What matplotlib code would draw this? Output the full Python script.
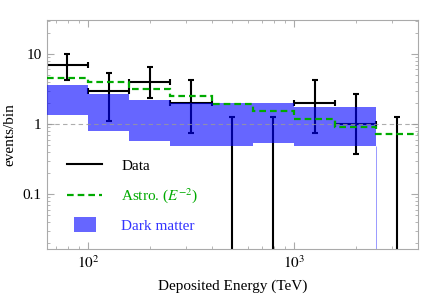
import matplotlib
matplotlib.use("Agg")
import matplotlib.pyplot as plt
import numpy as np
from matplotlib.lines import Line2D
from matplotlib.patches import Patch, Rectangle
from matplotlib.legend_handler import HandlerPatch
from matplotlib.ticker import FixedLocator, FixedFormatter, LogLocator, NullFormatter

plt.rcParams['font.family'] = ['Liberation Serif', 'DejaVu Serif']
plt.rcParams['mathtext.fontset'] = 'stix'

# Bin edges (TeV)
edges = [63.1, 100, 158.5, 251.2, 398.1, 631.0, 1000, 1585, 2512, 3981]
# Observed data
counts = [7, 3, 4, 2, 0, 0, 2, 1, 0]
err_low = [4.25, 1.11, 2.33, 0.74, 1e-4, 1e-4, 0.74, 0.37, 1e-4]
err_high = [10.1, 5.3, 6.6, 4.2, 1.27, 1.27, 4.2, 2.7, 1.27]
# Astrophysical E^-2 expectation
astro = [4.5, 4.0, 3.2, 2.54, 1.93, 1.53, 1.19, 0.92, 0.72]
# Dark matter band (first 8 bins)
dm_low = [1.35, 0.79, 0.58, 0.49, 0.49, 0.53, 0.485, 0.485]
dm_high = [3.6, 2.7, 2.2, 2.0, 2.0, 2.0, 1.77, 1.77]

x_ticks = [100, 1000]
x_labels = [r'$10^2$', r'$10^3$']
y_ticks = [0.1, 1, 10]
y_labels = ['0.1', '1', '10']

fig = plt.figure(figsize=(4.21, 2.96), dpi=100)
ax = fig.add_axes([0.1116, 0.1588, 0.8813, 0.7752])
ax.set_xscale('log')
ax.set_yscale('log')
xlim = (63.2, 4000)
ylim = (0.0164, 31)
ax.set_xlim(*xlim)
ax.set_ylim(*ylim)

edges_a = np.array(edges)
centers = np.sqrt(edges_a[:-1] * edges_a[1:])
cnt = np.array(counts, dtype=float)
lo = np.array(err_low)
hi = np.array(err_high)

# data error bars (drawn under the band)
for i in range(len(counts)):
    c = centers[i]
    ax.plot([c, c], [lo[i], hi[i]], color='black', lw=1.5, zorder=2, solid_capstyle='butt')
    ax.plot([c], [hi[i]], marker='_', ms=4.5, mew=1.5, color='black', zorder=2)
    if counts[i] > 0:
        ax.plot([c], [lo[i]], marker='_', ms=4.5, mew=1.5, color='black', zorder=2)
        ax.plot([edges[i], edges[i + 1]], [cnt[i], cnt[i]], color='black', lw=1.5, zorder=2,
                solid_capstyle='butt')
        ax.plot([edges[i], edges[i + 1]], [cnt[i], cnt[i]], ls='none', marker='|', ms=4.5,
                mew=1.5, color='black', zorder=2)

# dark matter band
ax.stairs(dm_high, edges[:len(dm_high) + 1], baseline=dm_low, fill=True,
          color='#0000ff', alpha=0.6, lw=0, zorder=3)
ax.vlines(edges[len(dm_high)], ylim[0], dm_low[-1], color='#9999ff', lw=0.7, zorder=3)

# grid line at 1
ax.axhline(1, color='#999999', lw=0.8, ls=(0, (4, 3)), alpha=0.8, zorder=3.5)

# astro
ax.stairs(astro, edges, color='#00aa00', lw=1.6, ls=(0, (3, 1.8)), zorder=4, baseline=None)

# ticks
ax.xaxis.set_major_locator(FixedLocator(x_ticks))
ax.xaxis.set_major_formatter(FixedFormatter(x_labels))
ax.xaxis.set_minor_locator(LogLocator(base=10, subs=np.arange(2, 10), numticks=20))
ax.xaxis.set_minor_formatter(NullFormatter())
ax.yaxis.set_major_locator(FixedLocator(y_ticks))
ax.yaxis.set_major_formatter(FixedFormatter(y_labels))
ax.yaxis.set_minor_locator(LogLocator(base=10, subs=np.arange(2, 10), numticks=20))
ax.yaxis.set_minor_formatter(NullFormatter())
ax.tick_params(which='both', direction='in', top=True, right=True, color='#aaaaaa',
               labelsize=11, labelcolor='black')
ax.tick_params(which='major', length=5, width=0.8, pad=4)
ax.tick_params(which='minor', length=2.5, width=0.6)
for s in ax.spines.values():
    s.set_color('#aaaaaa')
    s.set_linewidth(0.8)

ax.set_xlabel('Deposited Energy (TeV)', fontsize=11, labelpad=6)
ax.set_ylabel('events/bin', fontsize=11, labelpad=4)

def make_patch(legend, orig_handle, xdescent, ydescent, width, height, fontsize):
    return Rectangle((-xdescent + width * 0.2, -ydescent - height * 0.2),
                     width * 0.62, height * 1.4)

handles = [Line2D([], [], color='black', lw=1.5),
           Line2D([], [], color='#00aa00', lw=1.6, ls=(0, (3, 1.8))),
           Patch(facecolor='#0000ff', alpha=0.6, lw=0)]
labels = ['Data', r'Astro. ($E^{-2}$)', 'Dark matter']
leg = ax.legend(handles, labels, loc='upper left', bbox_to_anchor=(67 / 421, 1 - 159 / 296),
                bbox_transform=fig.transFigure, frameon=False, fontsize=11,
                handlelength=2.3, handletextpad=1.25, labelspacing=0.9, borderpad=0,
                borderaxespad=0, labelcolor=['black', '#00aa00', '#3333ff'],
                handler_map={Patch: HandlerPatch(patch_func=make_patch)})

fig.savefig('out.png', dpi=100)
